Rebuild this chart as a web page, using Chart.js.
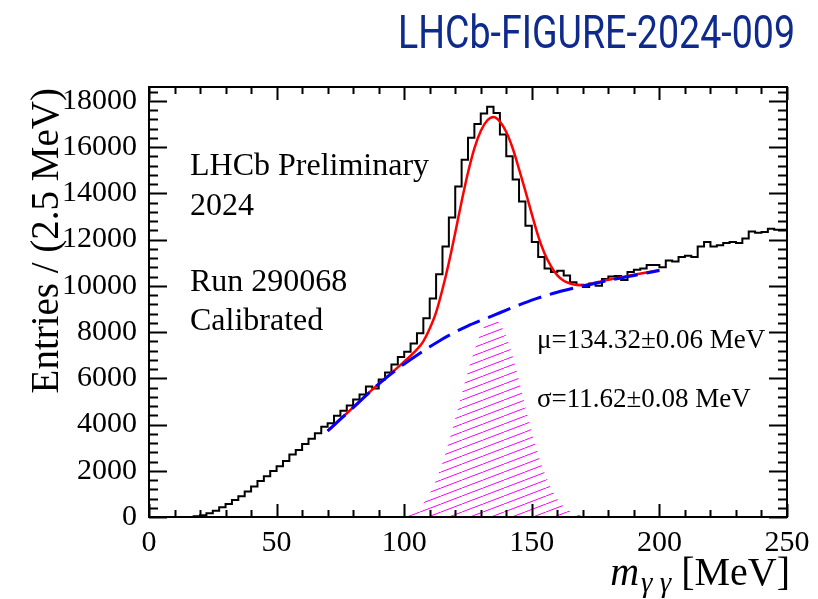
<!DOCTYPE html>
<html>
<head>
<meta charset="utf-8">
<title>LHCb-FIGURE-2024-009</title>
<script src="https://cdn.jsdelivr.net/npm/chart.js@4.4.1/dist/chart.umd.min.js"></script>
<style>
  html, body { margin: 0; padding: 0; background: #ffffff; }
  canvas { display: block; }
</style>
</head>
<body>
<canvas id="chart" width="818" height="599"></canvas>
<script>
// Diphoton invariant mass spectrum, 2.5 MeV bins from 0 to 250 MeV
const BIN_WIDTH = 2.5;
const counts = [
  0, 0, 0, 0, 0, 0, 0, 5, 30, 80,
  160, 270, 420, 560, 730, 900, 1100, 1320, 1560, 1760,
  1990, 2200, 2420, 2700, 2900, 3160, 3380, 3620, 3900, 4050,
  4380, 4600, 4820, 5080, 5300, 5650, 5560, 5950, 6250, 6600,
  6920, 7150, 7500, 7950, 8600, 9450, 10500, 11700, 12950, 14300,
  15450, 16400, 17000, 17450, 17750, 17480, 16550, 15600, 14600, 13650,
  12600, 11900, 11250, 10750, 10600, 10650, 10450, 10150, 10050, 9950,
  10100, 10000, 10300, 10400, 10420, 10250, 10600, 10700, 10750, 10900,
  10900, 10800, 11100, 11050, 11250, 11300, 11250, 11700, 11900, 11700,
  11750, 11850, 11900, 11850, 12050, 12350, 12300, 12330, 12470, 12430
];

// Total fit (signal + background)
const fitMass = [70, 75, 80, 85, 90, 95, 100, 105, 107.5, 110, 112.5, 115, 117.5, 120, 122.5,
  125, 127.5, 130, 132.5, 135, 137.5, 140, 142.5, 145, 147.5, 150, 152.5, 155, 157.5,
  160, 162.5, 165, 167.5, 170, 175, 180, 185, 190, 195, 200];
const totalFit = [3720, 4230, 4740, 5260, 5760, 6230, 6720, 7250, 7600, 8150, 8850, 9850, 11000, 12300, 13650,
  14900, 15950, 16700, 17150, 17300, 17100, 16650, 15950, 15050, 14100, 13100, 12150, 11400, 10850,
  10450, 10220, 10100, 10040, 10020, 10140, 10260, 10370, 10480, 10580, 10680];

// Combinatorial background component
const bkgMass = [70, 75, 80, 85, 90, 95, 100, 105, 110, 115, 120, 125, 130, 135, 140,
  145, 150, 155, 160, 165, 170, 175, 180, 185, 190, 195, 200];
const background = [3720, 4230, 4730, 5250, 5750, 6200, 6620, 7000, 7360, 7700, 8000, 8270, 8500, 8720, 8950,
  9170, 9380, 9560, 9720, 9860, 9990, 10110, 10230, 10340, 10450, 10555, 10660];

// pi0 signal component
const sigMass = [97.5, 100, 102.5, 105, 107.5, 110, 112.5, 115, 117.5, 120, 122.5, 125, 127.5, 130, 132.5,
  135, 137.5, 140, 142.5, 145, 147.5, 150, 152.5, 155, 157.5, 160, 162.5, 165, 167.5, 170, 172.5];
const signal = [30, 80, 170, 330, 600, 1000, 1600, 2350, 3250, 4250, 5300, 6300, 7200, 7950, 8400,
  8550, 8350, 7800, 6950, 5900, 4750, 3650, 2700, 1900, 1250, 780, 450, 250, 130, 60, 25];

// Axis ticks
const xTickValues = [0, 50, 100, 150, 200, 250];
const xTickLabels = ['0', '50', '100', '150', '200', '250'];
const yTickValues = [0, 2000, 4000, 6000, 8000, 10000, 12000, 14000, 16000, 18000];
const yTickLabels = ['0', '2000', '4000', '6000', '8000', '10000', '12000', '14000', '16000', '18000'];
const X_MINOR = 10, Y_MINOR = 400;

const SERIF = '"Liberation Serif", "Times New Roman", serif';

// Diagonal magenta hatching for the signal area
function makeHatch() {
  const w = 21, h = 8;
  const c = document.createElement('canvas');
  c.width = w; c.height = h;
  const g = c.getContext('2d');
  g.strokeStyle = '#ff00ff';
  g.lineWidth = 1;
  g.beginPath();
  g.moveTo(-w, 2 * h); g.lineTo(2 * w, -h);
  g.stroke();
  return g.createPattern(c, 'repeat');
}

const zip = (xs, ys) => xs.map((x, i) => ({ x: x, y: ys[i] }));
const histPoints = counts.map((v, i) => ({ x: i * BIN_WIDTH, y: v }));
histPoints.push({ x: counts.length * BIN_WIDTH, y: counts[counts.length - 1] });

// Frame, inward tick marks and text annotations
const decorations = {
  id: 'decorations',
  afterDraw(chart) {
    const { ctx, chartArea: a, scales } = chart;
    const xs = scales.x, ys = scales.y;
    ctx.save();
    ctx.strokeStyle = '#000';
    ctx.lineWidth = 2;
    ctx.beginPath();
    // x ticks (bottom and top)
    for (let v = xs.min; v <= xs.max + 1e-9; v += X_MINOR) {
      const px = Math.round(xs.getPixelForValue(v)) + 0.5;
      const len = xTickValues.includes(v) ? 13 : 7;
      ctx.moveTo(px, a.bottom); ctx.lineTo(px, a.bottom - len);
      ctx.moveTo(px, a.top); ctx.lineTo(px, a.top + len);
    }
    // y ticks (left and right)
    for (let v = ys.min; v <= ys.max + 1e-9; v += Y_MINOR) {
      const py = Math.round(ys.getPixelForValue(v)) + 0.5;
      const len = yTickValues.includes(v) ? 18 : 9;
      ctx.moveTo(a.left, py); ctx.lineTo(a.left + len, py);
      ctx.moveTo(a.right, py); ctx.lineTo(a.right - len, py);
    }
    ctx.stroke();
    ctx.strokeRect(a.left, a.top, a.right - a.left, a.bottom - a.top);

    // figure reference
    ctx.fillStyle = '#0e2a8c';
    ctx.font = '46px Roboto, "Liberation Sans", sans-serif';
    ctx.textAlign = 'left';
    ctx.textBaseline = 'alphabetic';
    ctx.fillText('LHCb-FIGURE-2024-009', 398, 48, 397);

    // y-axis title
    ctx.fillStyle = '#000';
    ctx.save();
    ctx.translate(58, 88);
    ctx.rotate(-Math.PI / 2);
    ctx.font = '39px ' + SERIF;
    ctx.textAlign = 'right';
    ctx.fillText('Entries / (2.5 MeV)', 0, 0);
    ctx.restore();

    // x-axis title: m_{γγ} [MeV]
    const base = 585;
    ctx.textAlign = 'left';
    ctx.font = '40px ' + SERIF;
    const unit = ' [MeV]';
    const wUnit = ctx.measureText(unit).width;
    ctx.font = 'italic 29px ' + SERIF;
    const sub = 'γ γ';
    const wSub = ctx.measureText(sub).width;
    ctx.font = 'italic 40px ' + SERIF;
    const wM = ctx.measureText('m').width + 2;
    const x0 = 790 - wUnit - wSub - wM;
    ctx.fillText('m', x0, base);
    ctx.font = 'italic 29px ' + SERIF;
    ctx.fillText(sub, x0 + wM, base + 7);
    ctx.font = '40px ' + SERIF;
    ctx.fillText(unit, x0 + wM + wSub, base);

    // labels inside the frame
    ctx.font = '32px ' + SERIF;
    ctx.fillText('LHCb Preliminary', 190, 175);
    ctx.fillText('2024', 190, 215);
    ctx.fillText('Run 290068', 190, 291);
    ctx.fillText('Calibrated', 190, 330);
    ctx.font = '27px ' + SERIF;
    ctx.fillText('μ=134.32±0.06 MeV', 537, 348);
    ctx.fillText('σ=11.62±0.08 MeV', 537, 407);
    ctx.restore();
  }
};

const chart = new Chart(document.getElementById('chart').getContext('2d'), {
  type: 'line',
  data: {
    datasets: [
      {
        label: 'Background', data: zip(bkgMass, background),
        borderColor: '#0000ff', borderWidth: 3, borderDash: [24, 9],
        pointRadius: 0, cubicInterpolationMode: 'monotone', fill: false, order: 0
      },
      {
        label: 'Total fit', data: zip(fitMass, totalFit),
        borderColor: '#ff0000', borderWidth: 2.5,
        pointRadius: 0, cubicInterpolationMode: 'monotone', fill: false, order: 1
      },
      {
        label: 'Data', data: histPoints,
        borderColor: '#000000', borderWidth: 2, stepped: 'after',
        pointRadius: 0, fill: false, order: 2
      },
      {
        label: 'Signal', data: zip(sigMass, signal),
        borderColor: 'rgba(0,0,0,0)', borderWidth: 0, backgroundColor: makeHatch(),
        pointRadius: 0, cubicInterpolationMode: 'monotone', fill: 'origin', order: 3
      }
    ]
  },
  options: {
    responsive: false,
    animation: false,
    devicePixelRatio: 1,
    layout: { padding: { top: 87, right: 31, left: 0, bottom: 0 } },
    plugins: { legend: { display: false }, tooltip: { enabled: false } },
    scales: {
      x: {
        type: 'linear', min: 0, max: 250,
        grid: { display: false, drawTicks: false },
        border: { display: false },
        afterBuildTicks: s => { s.ticks = xTickValues.map(v => ({ value: v })); },
        afterFit: s => { s.height = 82; },
        ticks: {
          font: { family: SERIF, size: 30 }, color: '#000', padding: 8,
          maxRotation: 0, autoSkip: false,
          callback: (v, i) => xTickLabels[i]
        }
      },
      y: {
        type: 'linear', min: 0, max: 18600,
        grid: { display: false, drawTicks: false },
        border: { display: false },
        afterBuildTicks: s => { s.ticks = yTickValues.map(v => ({ value: v })); },
        afterFit: s => { s.width = 149; },
        ticks: {
          font: { family: SERIF, size: 30 }, color: '#000', padding: 12,
          autoSkip: false,
          callback: (v, i) => yTickLabels[i]
        }
      }
    }
  },
  plugins: [decorations]
});
</script>
</body>
</html>
